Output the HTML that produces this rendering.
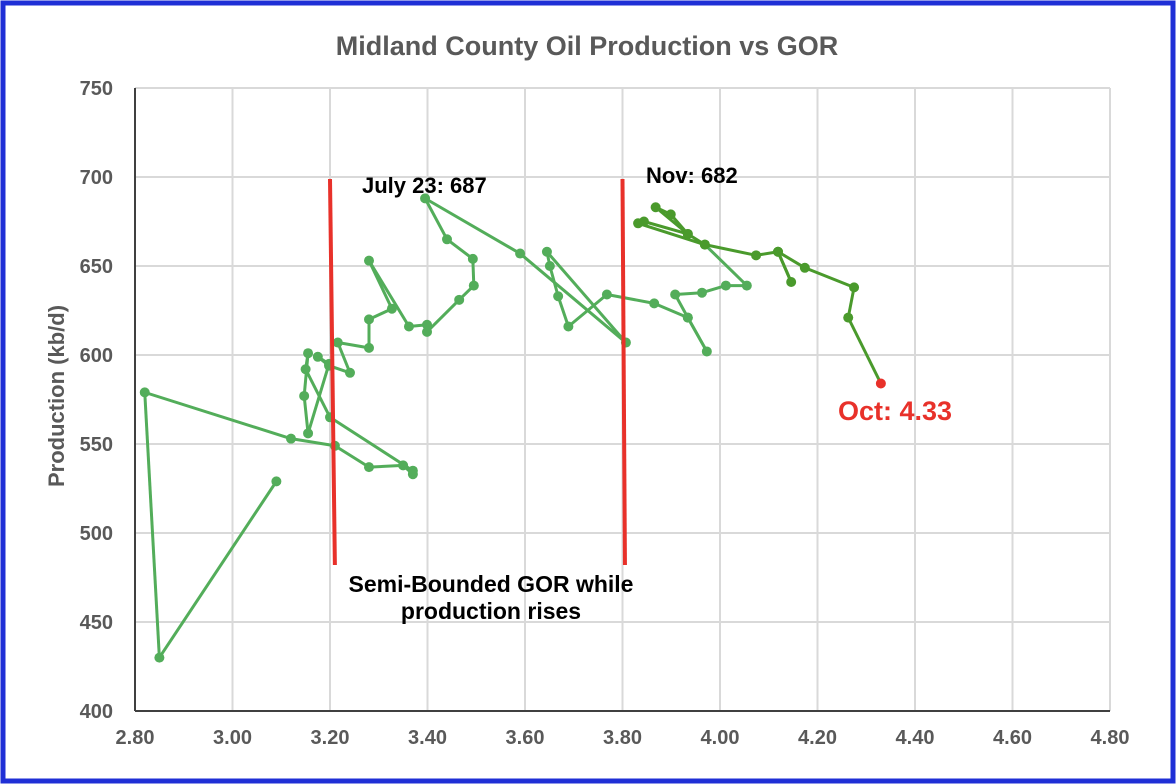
<!DOCTYPE html>
<html><head><meta charset="utf-8"><style>
body{margin:0;background:#fff;}
svg{display:block;font-family:"Liberation Sans",Arial,sans-serif;}
</style></head><body>
<svg id="chart" width="1176" height="784">
<rect x="3" y="3" width="1170" height="778" fill="#fff" stroke="#1f2fd6" stroke-width="5"/>
<text x="587" y="55" text-anchor="middle" font-size="27" font-weight="bold" fill="#595959">Midland County Oil Production vs GOR</text>
<text transform="translate(64,396) rotate(-90)" text-anchor="middle" font-size="22" font-weight="bold" fill="#595959">Production (kb/d)</text>
<g id="grid"></g><g id="ticks"></g><g id="series"></g><g id="notes"></g>
</svg>
<script>
const xTicks=[2.8,3.0,3.2,3.4,3.6,3.8,4.0,4.2,4.4,4.6,4.8];
const yTicks=[400,450,500,550,600,650,700,750];
const gorValues=[3.09,2.85,2.82,3.12,3.21,3.28,3.35,3.37,3.37,3.20,3.15,3.155,3.147,3.155,3.198,3.175,3.198,3.241,3.216,3.28,3.28,3.327,3.28,3.362,3.399,3.399,3.465,3.495,3.493,3.44,3.395,3.59,3.807,3.645,3.651,3.668,3.689,3.768,3.865,3.934,3.973,3.934,3.908,3.963,4.012,4.055,3.969,3.934,3.899,3.868,3.934,3.844,3.832,3.969,4.074,4.119,4.146,4.119,4.174,4.275,4.263,4.33];
const prodValues=[529,430,579,553,549,537,538,533,535,565,592,601,577,556,595,599,594,590,607,604,620,626,653,616,617,613,631,639,654,665,688,657,607,658,650,633,616,634,629,621,602,621,634,635,639,639,662,668,679,683,668,675,674,662,656,658,641,658,649,638,621,584];
const darkFrom=46;
const X=v=>135+(v-2.8)*487.5, Y=v=>711-(v-400)*1.78;
const ns="http://www.w3.org/2000/svg";
function mk(t,p,a){const e=document.createElementNS(ns,t);for(const k in a)e.setAttribute(k,a[k]);p.appendChild(e);return e;}
const g=document.getElementById('grid'),tk=document.getElementById('ticks'),s=document.getElementById('series'),n=document.getElementById('notes');
xTicks.forEach(v=>{const l=mk('line',g,{x1:X(v),x2:X(v),y1:Y(750),y2:Y(400),stroke:'#d9d9d9','stroke-width':2});


const t=mk('text',tk,{x:X(v),y:744,'text-anchor':'middle','font-size':20,'font-weight':'bold',fill:'#595959'});t.textContent=v.toFixed(2);

});
yTicks.forEach(v=>{const l=mk('line',g,{x1:X(2.8),x2:X(4.8),y1:Y(v),y2:Y(v),stroke:'#d9d9d9','stroke-width':2});


const t=mk('text',tk,{x:113,y:Y(v)+7,'text-anchor':'end','font-size':20,'font-weight':'bold',fill:'#595959'});t.textContent=v;

});
const ax=mk('line',g,{x1:X(2.8),x2:X(2.8),y1:Y(750),y2:Y(400),stroke:'#404040','stroke-width':2});


const ax2=mk('line',g,{x1:X(2.8),x2:X(4.8),y1:Y(400),y2:Y(400),stroke:'#404040','stroke-width':2});


for(let i=1;i<gorValues.length;i++){const l=mk('line',s,{x1:X(gorValues[i-1]),y1:Y(prodValues[i-1]),x2:X(gorValues[i]),y2:Y(prodValues[i]),stroke:i>darkFrom?'#4a9a2c':'#53ad5a','stroke-width':3});

}
gorValues.forEach((v,i)=>{const last=i==gorValues.length-1;const c=mk('circle',s,{cx:X(v),cy:Y(prodValues[i]),r:5,fill:last?'#e8312a':(i>=darkFrom?'#4a9a2c':'#53ad5a')});

});
[[3.2,3.21],[3.8,3.805]].forEach(r=>{const l=mk('line',n,{x1:X(r[0]),y1:179,x2:X(r[1]),y2:565,stroke:'#e8312a','stroke-width':4});

});
function txt(x,y,str,fill,size,name,anchor){const t=mk('text',n,{x:x,y:y,'font-size':size,'font-weight':'bold',fill:fill,'text-anchor':anchor||'start'});t.textContent=str;

}
txt(362,193,'July 23: 687','#000',22,'annotation-july');
txt(646,183,'Nov: 682','#000',22,'annotation-nov');
txt(838,420,'Oct: 4.33','#e8312a',27,'annotation-oct');
txt(491,592,'Semi-Bounded GOR while','#000',23,'annotation-semi','middle');
txt(491,619,'production rises','#000',23,'annotation-semi-2','middle');
</script>
</body></html>
